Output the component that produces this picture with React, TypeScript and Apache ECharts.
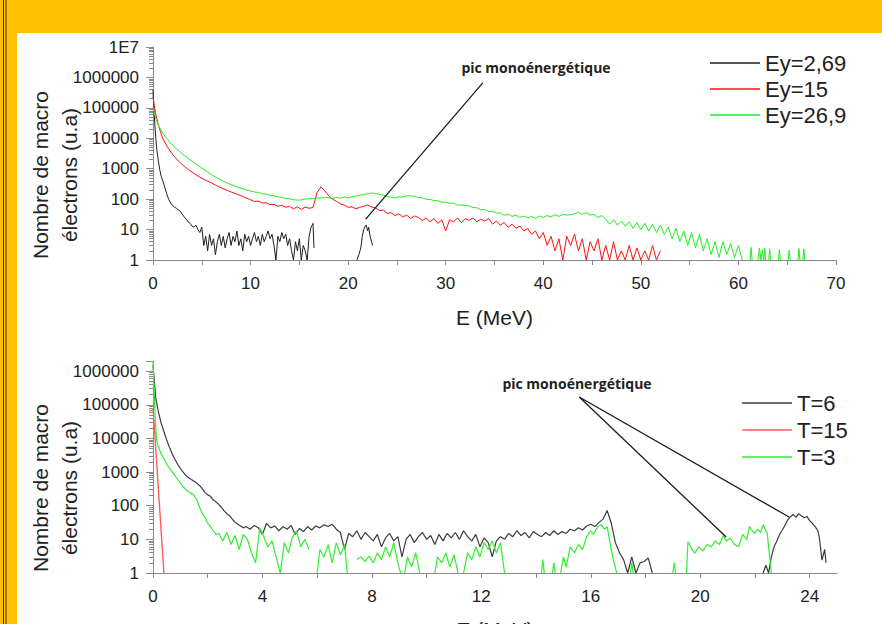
import React, { useEffect, useRef } from "react";
import * as echarts from "echarts";

type Pt = [number, number | string];
const GAP = "-";

// ---------- shared tick definitions ----------
const topXTicks = [0, 5, 10, 15, 20, 25, 30, 35, 40, 45, 50, 55, 60, 65, 70];
const topXLabels = [0, 10, 20, 30, 40, 50, 60, 70];
const botXTicks = [0, 2, 4, 6, 8, 10, 12, 14, 16, 18, 20, 22, 24];
const botXLabels = [0, 4, 8, 12, 16, 20, 24];

// ---------- top chart: Ey=2,69 (black) ----------
const ey269Head: Pt[] = [
  [0, 4e5], [0.1, 9e4], [0.2, 2.5e4], [0.3, 9000], [0.4, 4000], [0.55, 1800], [0.7, 900],
  [0.85, 550], [1.0, 400], [1.2, 250], [1.4, 150], [1.6, 100], [1.8, 75], [2.0, 62], [2.2, 55],
  [2.4, 50], [2.6, 44], [2.8, 40], [3.0, 32], [3.2, 26], [3.4, 22], [3.6, 18], [3.8, 16],
  [4.0, 13], [4.2, 12], [4.4, 14],
];
const ey269Noise = [
  10, 8, 12, 3, 6, 2, 7, 3, 5, 1.5,
  4, 7, 3, 6, 2.5, 5, 8, 3, 6, 4,
  9, 3, 5, 2, 7, 4, 6, 3, 5, 8,
  4, 6, 3, 7, 4, 6, 9, 5, 7, 3,
  1, 6, 4, 8, 5, 7, 3, 5, 2, 1,
  4, 2, 5, 1, 3, 2, 1, 6, 12, 16,
];
const ey269Peak: Pt[] = [
  [20.9, 1], [21.1, 1.5], [21.3, 2.5], [21.45, 6], [21.6, 10], [21.75, 13], [21.85, 14],
  [22.0, 9], [22.1, 12], [22.25, 6], [22.4, 4], [22.5, 3],
];

// ---------- top chart: Ey=15 (red) ----------
const ey15Head: Pt[] = [
  [0, 2.5e5], [0.1, 1.3e5], [0.25, 7e4], [0.4, 4.2e4], [0.6, 2.4e4], [0.8, 1.5e4], [1.0, 1e4],
  [1.3, 6500], [1.6, 4500], [2.0, 3000], [2.4, 2100], [2.8, 1550], [3.2, 1200], [3.6, 950],
  [4.0, 780], [4.4, 640], [4.8, 530], [5.2, 450], [5.6, 390], [6.0, 340], [6.4, 290], [6.8, 250],
  [7.2, 220], [7.6, 195], [8.0, 172], [8.4, 155], [8.8, 138], [9.2, 122], [9.6, 108],
];
const ey15Tail = [
  95, 84, 86, 74, 76, 66, 68, 58, 62, 54,
  58, 48, 56, 46, 55, 50, 53, 160, 250, 190,
  130, 100, 85, 70, 64, 54, 56, 48, 54, 58,
  64, 55, 52, 42, 44, 34, 36, 29, 33, 26,
  30, 23, 28, 25, 20, 24, 18, 23, 16, 21,
  9, 21, 18, 24, 17, 23, 20, 24, 18, 22,
  19, 23, 15, 19, 14, 17, 12, 15, 11, 13,
  9, 11, 7, 9, 5, 8, 3, 6, 2, 5,
  1, 6, 3, 7, 2, 5, 1, 4, 2, 5,
  1, 3, 1, 4, 1, 2, 1, 3, 1, 2.5,
  1, 2, 1, 3, 1, 2,
];

// ---------- top chart: Ey=26,9 (green) ----------
const ey269gHead: Pt[] = [
  [0, 1.1e5], [0.1, 7.5e4], [0.25, 5e4], [0.4, 3.5e4], [0.6, 2.5e4], [0.8, 1.9e4], [1.0, 1.5e4],
  [1.4, 1e4], [1.8, 7000], [2.2, 5200], [2.6, 4000], [3.0, 3100], [3.5, 2300], [4.0, 1750],
  [4.5, 1350], [5.0, 1050], [5.5, 820], [6.0, 640], [6.5, 510], [7.0, 420], [7.5, 350],
  [8.0, 300], [8.5, 260], [9.0, 230], [9.6, 200],
];
const ey269gTail = [
  185, 172, 166, 150, 147, 131, 129, 118, 116, 106,
  104, 95, 93, 94, 101, 103, 104, 110, 108, 114,
  111, 103, 115, 107, 118, 110, 122, 125, 136, 138,
  153, 158, 155, 143, 136, 120, 117, 109, 119, 118,
  128, 129, 124, 113, 110, 99, 98, 90, 88, 80,
  80, 73, 74, 64, 64, 62, 60, 53, 52, 45,
  46, 39, 40, 35, 35, 29, 33, 27, 30, 25,
  28, 24, 27, 23, 28, 25, 29, 26, 31, 27,
  32, 30, 31, 33, 37, 31, 36, 30, 31, 25,
  29, 22, 15, 21, 14, 19, 13, 18, 11, 17,
  10, 16, 9, 15, 8, 14, 7, 12, 5, 11,
  4, 9, 3, 8, 2.5, 7, 2, 5, 1.5, 4,
  1.2, 4, 1.5, 3.5, 1.2, 3, 1,
];
const ey269gSparse: Pt[] = [
  [61.0, GAP], [61.2, 1], [61.3, 2.6], [61.4, 1], [61.9, GAP], [62.0, 1], [62.15, 2.5], [62.3, 1],
  [62.45, 2.2], [62.6, 1], [62.7, 2.4], [62.8, 1], [63.0, GAP], [63.1, 1], [63.2, 2.3], [63.3, 1],
  [63.8, GAP], [64.1, 1], [64.2, 2.2], [64.3, 1], [64.8, GAP], [65.1, 1], [65.2, 2.1], [65.3, 1],
  [65.8, GAP], [66.1, 1], [66.2, 2.4], [66.3, 1], [66.5, GAP], [66.6, 1], [66.7, 2.3], [66.8, 1],
];

// annotation lines (data coordinates)
const topPicLine: [number, number][] = [[33.8, 6.6e5], [21.8, 22]];
const botPicLines: [number, number][][] = [
  [[15.58, 1.7e5], [20.95, 11.7]],
  [[15.58, 1.7e5], [23.25, 46]],
];

// ---------- bottom chart: T=6 (dark grey) ----------
const t6Head: Pt[] = [
  [0, 1.5e6], [0.05, 5e5], [0.1, 1.6e5], [0.2, 6e4], [0.3, 2.8e4], [0.4, 1.6e4], [0.5, 9000],
  [0.6, 5500], [0.7, 3500], [0.8, 2400], [0.9, 1700], [1.0, 1300], [1.1, 1000], [1.2, 800],
  [1.3, 680], [1.4, 600], [1.5, 530], [1.6, 470], [1.7, 400], [1.8, 320], [1.9, 250], [2.0, 210],
  [2.1, 190], [2.2, 150], [2.3, 130], [2.4, 110], [2.5, 90], [2.6, 70], [2.7, 58], [2.8, 50],
  [2.9, 40], [3.0, 32], [3.1, 28], [3.2, 25], [3.3, 22],
];
const t6Noise = [
  24, 20, 26, 22, 14, 30, 22, 25, 18, 24,
  20, 26, 14, 21, 17, 24, 19, 25, 22, 27,
  24, 28, 20, 16, 5, 15, 12, 18, 10, 16,
  12, 9, 14, 6, 11, 15, 9, 12, 3, 10,
  14, 8, 12, 16, 10, 13, 7, 14, 9, 15,
  11, 16, 10, 18, 12, 9, 14, 6, 11, 8,
  3, 9, 12, 10, 15, 12, 18, 13, 16, 11,
  17, 14, 12, 16, 13, 18, 14, 17, 15, 20,
  18, 22, 19, 25, 28, 24, 32, 40, 72, 30,
  8, 4, 2.5, 1, 3, 1, 2, 2.2, 2.8, 1,
];
const t6Peak: Pt[] = [
  [22.3, 1], [22.4, 1.7], [22.5, 1], [22.6, 3], [22.7, 6], [22.8, 9], [22.9, 14], [23.0, 19],
  [23.1, 26], [23.2, 38], [23.3, 47], [23.4, 55], [23.5, 45], [23.6, 58], [23.7, 50], [23.8, 44],
  [23.9, 48], [24.0, 36], [24.1, 30], [24.2, 24], [24.3, 18], [24.35, 12], [24.45, 2.4],
  [24.55, 5], [24.6, 2],
];

// ---------- bottom chart: T=15 (red) ----------
const t15: Pt[] = [
  [0, 8e4], [0.05, 2.2e4], [0.1, 5000], [0.15, 1200], [0.2, 280], [0.25, 70], [0.3, 16],
  [0.35, 4], [0.4, 1],
];

// ---------- bottom chart: T=3 (green) ----------
const t3Head: Pt[] = [
  [0, 2e6], [0.03, 5e5], [0.07, 6e4], [0.13, 9000], [0.2, 5500], [0.3, 3500], [0.37, 2800],
  [0.5, 1700], [0.6, 1300], [0.74, 930], [0.9, 600], [1.0, 480], [1.1, 365], [1.2, 300],
  [1.3, 260], [1.4, 230], [1.5, 200], [1.6, 150], [1.7, 90], [1.8, 60], [1.9, 45], [2.0, 30],
  [2.1, 24], [2.2, 18], [2.3, 14],
];
const t3Noise = [
  15, 9, 16, 7, 13, 5, 14, 10, 4, 2,
  22, 12, 6, 9, 3, 1, 8, 4, 12, 18,
  6, 10, 5,
];
const t3Sparse: Pt[] = [
  [5.85, GAP],
  [6.0, 1], [6.1, 5], [6.25, 3], [6.4, 7], [6.55, 2], [6.7, 8], [6.85, 3.5], [7.0, 7], [7.1, 1],
  [7.3, GAP],
  [7.45, 2.5], [7.6, 3], [7.75, 2.2], [7.9, 3.2], [8.05, 2], [8.2, 4], [8.35, 2.5], [8.5, 6],
  [8.65, 3], [8.8, 8], [8.95, 2], [9.05, 1],
  [9.1, GAP],
  [9.2, 1], [9.3, 3], [9.45, 1.5], [9.6, 4], [9.75, 1],
  [10.0, GAP],
  [10.3, 1], [10.4, 3], [10.55, 2], [10.7, 4], [10.85, 1.5], [11.0, 3.5], [11.15, 1],
  [11.25, GAP],
  [11.35, 1], [11.5, 4], [11.65, 2.5], [11.8, 6], [11.95, 3], [12.1, 8], [12.25, 5], [12.4, 9],
  [12.55, 4], [12.7, 8], [12.85, 1],
  [13.5, GAP],
  [14.2, 1], [14.25, 2.5], [14.3, 1], [14.45, GAP], [14.6, 1], [14.65, 2], [14.7, 1], [14.8, GAP],
  [14.9, 1], [15.0, 3], [15.1, 1.5], [15.25, 6], [15.4, 4], [15.55, 7], [15.7, 5], [15.85, 12],
  [16.0, 18], [16.1, 14], [16.25, 24], [16.4, 27], [16.5, 20], [16.6, 24], [16.75, 5],
  [16.85, 2], [16.95, 1],
  [17.2, GAP],
  [17.45, 1], [17.5, 2], [17.55, 1],
  [18.5, GAP],
  [19.0, 1], [19.05, 2], [19.1, 1],
  [19.3, GAP],
  [19.5, 1], [19.55, 8.5], [19.7, 5], [19.8, 3.9], [19.95, 6], [20.1, 4.5], [20.25, 7], [20.4, 6],
  [20.55, 9], [20.7, 7], [20.85, 13], [20.95, 9], [21.1, 11], [21.25, 7], [21.4, 6], [21.55, 14],
  [21.7, 10], [21.8, 24], [21.9, 18], [22.0, 15], [22.1, 20], [22.2, 16], [22.3, 27],
  [22.45, 15], [22.6, 1],
];

function run(start: number, step: number, vals: number[]): Pt[] {
  return vals.map((v, i) => [Math.round((start + i * step) * 1000) / 1000, v] as Pt);
}

const sEy269: Pt[] = [...ey269Head, ...run(4.6, 0.2, ey269Noise), [16.5, 2.5], [18, GAP], ...ey269Peak];
const sEy15: Pt[] = [...ey15Head, ...run(10, 0.4, ey15Tail)];
const sEy269g: Pt[] = [...ey269gHead, ...run(10, 0.4, ey269gTail), ...ey269gSparse];
const sT6: Pt[] = [...t6Head, ...run(3.4, 0.15, t6Noise), [20, GAP], ...t6Peak];
const sT3: Pt[] = [...t3Head, ...run(2.4, 0.15, t3Noise), ...t3Sparse];

const FONT = "'Liberation Sans', Arial, Helvetica, sans-serif";
const TXT = "#222";
const AXIS = "#8a8a8a";

function logFmt(v: number): string {
  const e = Math.log10(v);
  if (Math.abs(e - Math.round(e)) > 1e-6) return "";
  const r = Math.round(v);
  if (r >= 1e7) return "1E7";
  return String(r);
}

function xAxisCfg(grid: number, max: number, ticks: number[], labels: number[], nameGap: number) {
  return {
    gridIndex: grid,
    type: "value",
    min: 0,
    max,
    name: "E (MeV)",
    nameLocation: "middle",
    nameGap,
    nameTextStyle: { fontSize: 21, color: TXT, fontFamily: FONT },
    axisLine: { show: true, onZero: false, lineStyle: { color: AXIS, width: 1 } },
    axisTick: { show: true, length: 5, customValues: ticks, lineStyle: { color: AXIS } },
    axisLabel: { customValues: labels, fontSize: 17, color: TXT, fontFamily: FONT, margin: 15 },
    splitLine: { show: false },
  };
}

function yAxisCfg(grid: number, max: number) {
  return {
    gridIndex: grid,
    type: "log",
    logBase: 10,
    min: 1,
    max,
    axisLine: { show: true, onZero: false, lineStyle: { color: AXIS, width: 1 } },
    axisTick: { show: true, length: 7, lineStyle: { color: AXIS } },
    minorTick: { show: true, splitNumber: 9, length: 4, lineStyle: { color: AXIS } },
    axisLabel: { fontSize: 17, color: TXT, fontFamily: FONT, margin: 14, formatter: logFmt },
    splitLine: { show: false },
    minorSplitLine: { show: false },
  };
}

function lineSeries(name: string, xi: number, data: Pt[], color: string, width: number, extra: any = {}) {
  return {
    name,
    type: "line",
    xAxisIndex: xi,
    yAxisIndex: xi,
    data,
    color,
    showSymbol: false,
    symbol: "none",
    connectNulls: false,
    lineStyle: { color, width },
    emphasis: { disabled: true },
    silent: true,
    ...extra,
  };
}

function picMarkLine(lines: [number, number][][]) {
  return {
    silent: true,
    symbol: ["none", "none"],
    label: { show: false },
    emphasis: { disabled: true },
    lineStyle: { color: "#1a1a1a", width: 1.3, type: "solid" },
    data: lines.map((l) => [{ coord: l[0] }, { coord: l[1] }]),
  };
}

const legendBase = {
  orient: "vertical",
  padding: 0,
  itemWidth: 50,
  itemHeight: 1.5,
  icon: "rect",
  selectedMode: false,
  textStyle: { fontSize: 22, color: TXT, fontFamily: FONT },
};

const option: any = {
  animation: false,
  backgroundColor: "#ffffff",
  grid: [
    { left: 153, top: 47, width: 683, height: 213, outerBoundsMode: "none", containLabel: false },
    { left: 153, top: 361, width: 684, height: 212, outerBoundsMode: "none", containLabel: false },
  ],
  xAxis: [
    xAxisCfg(0, 70, topXTicks, topXLabels, 47),
    xAxisCfg(1, 25, botXTicks, botXLabels, 46),
  ],
  yAxis: [yAxisCfg(0, 1e7), yAxisCfg(1, 2e6)],
  legend: [
    { ...legendBase, data: ["Ey=2,69", "Ey=15", "Ey=26,9"], left: 710, top: 52, itemGap: 4 },
    { ...legendBase, data: ["T=6", "T=15", "T=3"], left: 742, top: 392, itemGap: 5 },
  ],
  series: [
    lineSeries("Ey=2,69", 0, sEy269, "#1e1e1e", 1, { markLine: picMarkLine([topPicLine]) }),
    lineSeries("Ey=15", 0, sEy15, "#ff1010", 1),
    lineSeries("Ey=26,9", 0, sEy269g, "#22ee22", 1),
    lineSeries("T=6", 1, sT6, "#3c3c3c", 1.2, { markLine: picMarkLine(botPicLines) }),
    lineSeries("T=15", 1, t15, "#ff5c5c", 1.4),
    lineSeries("T=3", 1, sT3, "#33ee33", 1.2),
  ],
  graphic: [
    { type: "rect", silent: true, shape: { x: 0, y: 0, width: 882, height: 33 }, style: { fill: "#FFC000" } },
    { type: "rect", silent: true, shape: { x: 0, y: 0, width: 17, height: 624 }, style: { fill: "#FFC000" } },
    { type: "line", silent: true, shape: { x1: 3.5, y1: 0, x2: 3.5, y2: 624 }, style: { stroke: "#3a3000", lineWidth: 1 } },
    { type: "line", silent: true, shape: { x1: 6, y1: 0, x2: 6, y2: 624 }, style: { stroke: "#3a3000", lineWidth: 1 } },
    {
      type: "text", silent: true, x: 55, y: 175, rotation: Math.PI / 2,
      style: { text: "Nombre de macro\nélectrons (u.a)", fontSize: 21, fontFamily: FONT, fill: TXT, align: "center", verticalAlign: "middle", lineHeight: 29 },
    },
    {
      type: "text", silent: true, x: 55, y: 488, rotation: Math.PI / 2,
      style: { text: "Nombre de macro\nélectrons (u.a)", fontSize: 21, fontFamily: FONT, fill: TXT, align: "center", verticalAlign: "middle", lineHeight: 29 },
    },
    {
      type: "text", silent: true, x: 536, y: 67,
      style: { text: "pic monoénergétique", fontSize: 14, fontWeight: "bold", fontFamily: "'Open Sans', sans-serif", fill: TXT, align: "center", verticalAlign: "middle" },
    },
    {
      type: "text", silent: true, x: 577, y: 383,
      style: { text: "pic monoénergétique", fontSize: 14, fontWeight: "bold", fontFamily: "'Open Sans', sans-serif", fill: TXT, align: "center", verticalAlign: "middle" },
    },
  ],
};

export default function App() {
  const ref = useRef<HTMLDivElement>(null);
  useEffect(() => {
    document.body.style.margin = "0";
    const chart = echarts.init(ref.current as HTMLDivElement, null, { renderer: "svg" });
    chart.setOption(option);
    return () => chart.dispose();
  }, []);
  return <div ref={ref} style={{ position: "absolute", left: 0, top: 0, width: 882, height: 624 }} />;
}
